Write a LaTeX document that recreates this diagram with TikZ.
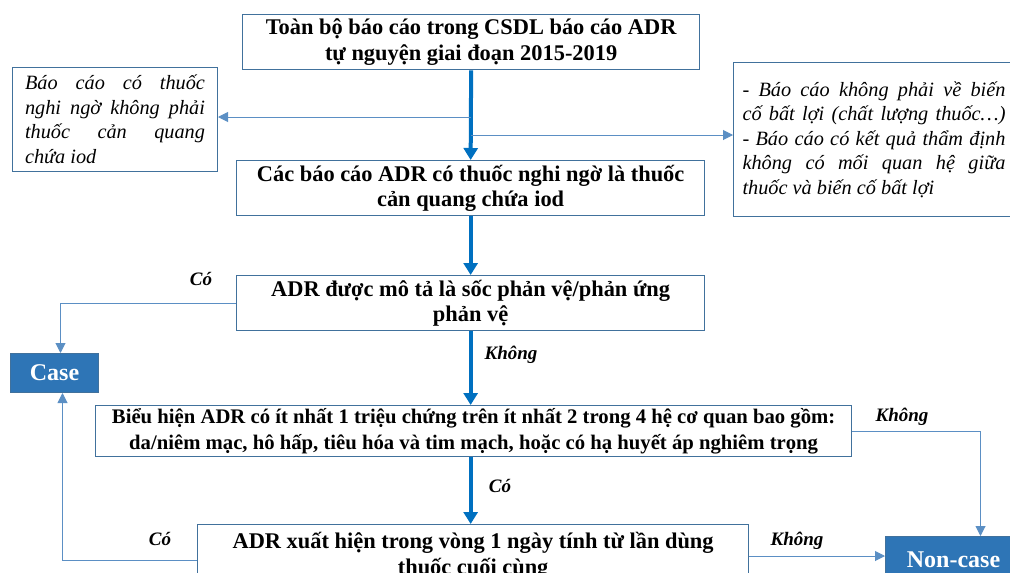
\documentclass[tikz,border=0pt]{standalone}
\usepackage{fontspec}
\setmainfont{Liberation Serif}
\usetikzlibrary{arrows.meta,calc}
\definecolor{thick}{HTML}{0070C0}
\definecolor{bord}{HTML}{41719C}
\definecolor{thin}{HTML}{5B8FC4}
\definecolor{fillb}{HTML}{2E75B6}
\tikzset{
  mainbox/.style={draw=bord,line width=1.3pt,fill=white,anchor=north west,align=center,inner sep=0pt,
    font=\fontsize{22.4}{25.5}\selectfont\bfseries},
  sidebox/.style={draw=bord,line width=1pt,fill=white,anchor=north west,inner sep=0pt,
    font=\fontsize{20.3}{24.5}\selectfont\itshape},
  termbox/.style={draw=bord,line width=1pt,fill=fillb,text=white,anchor=north west,inner sep=0pt,
    font=\fontsize{24}{26}\selectfont\bfseries},
  thickarrow/.style={draw=thick,line width=4pt,-{Triangle[width=14pt,length=12pt]}},
  thinarrow/.style={draw=thin,line width=1pt,-{Triangle[width=10pt,length=10pt]}},
  lbl/.style={font=\fontsize{19}{20}\selectfont\bfseries\itshape,inner sep=0pt},
}
\begin{document}
\begin{tikzpicture}[x=1pt,y=-1pt]
\useasboundingbox (0,0) rectangle (1010,573);
\node[mainbox,minimum width=457pt,minimum height=55pt] (b1) at (242,14)
  {Toàn bộ báo cáo trong CSDL báo cáo ADR\\tự nguyện giai đoạn 2015-2019};
\node[mainbox,minimum width=468pt,minimum height=55pt] (b2) at (236,160)
  {Các báo cáo ADR có thuốc nghi ngờ là thuốc\\cản quang chứa iod};
\node[mainbox,minimum width=468pt,minimum height=55pt] (b3) at (236,275)
  {ADR được mô tả là sốc phản vệ/phản ứng\\phản vệ};
\node[mainbox,minimum width=756pt,minimum height=51pt,font=\fontsize{20.7}{26}\selectfont\bfseries] (b4) at (95,405)
  {Biểu hiện ADR có ít nhất 1 triệu chứng trên ít nhất 2 trong 4 hệ cơ quan bao gồm:\\da/niêm mạc, hô hấp, tiêu hóa và tim mạch, hoặc có hạ huyết áp nghiêm trọng};
\node[mainbox,minimum width=551pt,minimum height=62pt] (b5) at (197,524)
  {ADR xuất hiện trong vòng 1 ngày tính từ lần dùng\\thuốc cuối cùng};
\node[sidebox,minimum width=205pt,minimum height=104pt,align=left] (left) at (12,67)
  {\makebox[180pt][s]{Báo cáo có thuốc}\\\makebox[180pt][s]{nghi ngờ không phải}\\\makebox[180pt][s]{thuốc cản quang}\\chứa iod};
\node[sidebox,minimum height=154pt,inner xsep=9pt,align=left] (right) at (733,62)
  {\makebox[263pt][s]{- Báo cáo không phải về biến}\\\makebox[263pt][s]{cố bất lợi (chất lượng thuốc…)}\\\makebox[263pt][s]{- Báo cáo có kết quả thẩm định}\\\makebox[263pt][s]{không có mối quan hệ giữa}\\thuốc và biến cố bất lợi};
\node[termbox,minimum width=88pt,minimum height=39pt] (case) at (10,353) {Case};
\node[termbox,minimum width=136pt,minimum height=46pt] (nc) at (885,536) {Non-case};
% main arrows
\draw[thickarrow] (b1.south) -- (b2.north);
\draw[thickarrow] (b2.south) -- (b3.north);
\draw[thickarrow] (b3.south) -- (b3.south |- b4.north);
\draw[thickarrow] (b3.south |- b4.south) -- (b3.south |- b5.north);
% branches
\coordinate (j1) at (b1.south |- 0,117);
\coordinate (j2) at (b1.south |- 0,135);
\draw[thinarrow] (j1) -- (j1 -| left.east);
\draw[thinarrow] (j2) -- (j2 -| right.west);
\draw[thinarrow] (b3.west) -| ([xshift=6pt]case.north);
\draw[thinarrow] (b5.west |- 0,560) -| ([xshift=8pt]case.south);
\draw[thinarrow] (b4.east) -| ([xshift=27pt]nc.north);
\draw[thinarrow] (b5.east |- 0,556) -- (nc.west |- 0,556);
% labels
\node[lbl] (l1) at (201,279) {Có};
\node[lbl] (l2) at (511,355) {Không};
\node[lbl] (l3) at (902,417) {Không};
\node[lbl] (l4) at (500,486) {Có};
\node[lbl] (l5) at (160,539) {Có};
\node[lbl] (l6) at (797,541) {Không};
\end{tikzpicture}
\end{document}
